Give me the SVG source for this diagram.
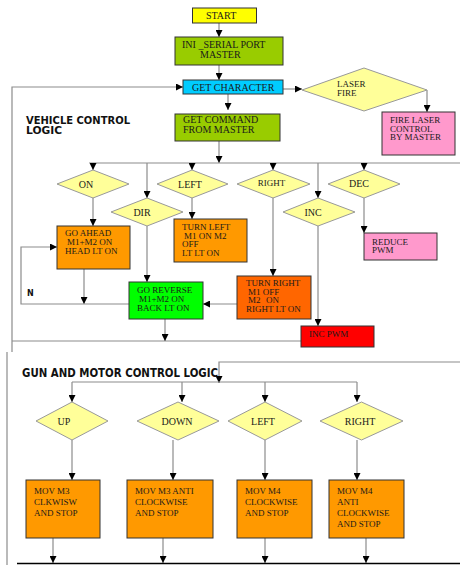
<svg xmlns="http://www.w3.org/2000/svg" width="460" height="565" viewBox="0 0 460 565">
<style>
.bx{stroke:#333;stroke-width:1}
.dm{fill:#ffff99;stroke:#999;stroke-width:1}
.t{font-family:"Liberation Serif","Times New Roman",serif;font-size:9px;fill:#1a1a1a}
.t10{font-family:"Liberation Serif","Times New Roman",serif;font-size:10px;fill:#1a1a1a}
.h{font-family:"DejaVu Sans",Verdana,sans-serif;font-weight:bold;fill:#111}
.c{fill:none;stroke:#8c8c8c;stroke-width:1.2}
.ca{fill:none;stroke:#8c8c8c;stroke-width:1.2;marker-end:url(#ar)}
</style>
<defs>
<marker id="ar" viewBox="0 0 8 8" refX="8" refY="4" markerWidth="7" markerHeight="7" markerUnits="userSpaceOnUse" orient="auto">
<path d="M0,0 L8,4 L0,8 z" fill="#000"/>
</marker>
</defs>
<rect width="460" height="565" fill="#fff"/>

<g id="connectors">
<path class="ca" d="M219,23 V37"/>
<path class="ca" d="M219,65 V80"/>
<path class="ca" d="M228,94 V110"/>
<path class="ca" d="M283,89 H302"/>
<path class="ca" d="M427,90 V112"/>
<path class="ca" d="M12,352 V87 H183"/>
<path class="c" d="M12,341 H301"/>
<path class="ca" d="M219,141 V163"/>
<path class="c" d="M89,163 H460"/>
<path class="ca" d="M93,163 V170"/>
<path class="ca" d="M147,163 V198"/>
<path class="ca" d="M192,163 V170"/>
<path class="ca" d="M273,163 V170"/>
<path class="ca" d="M318,163 V198"/>
<path class="ca" d="M364,163 V170"/>
<path class="ca" d="M93,197 V226"/>
<path class="ca" d="M147,226 V282"/>
<path class="ca" d="M192,197 V219"/>
<path class="ca" d="M273,197 V276"/>
<path class="ca" d="M318,226 V326"/>
<path class="ca" d="M364,197 V233"/>
<path class="ca" d="M84,269 V304"/>
<path class="ca" d="M129,304 H21 V247 H57"/>
<path class="ca" d="M237,304 H203"/>
<path class="ca" d="M165,319 V341"/>
<path class="c" d="M7,352 V565"/>
<path class="ca" d="M460,362 H219 V383"/>
<path class="c" d="M72,382 H357"/>
<path class="ca" d="M72,382 V402"/>
<path class="ca" d="M182,382 V402"/>
<path class="ca" d="M265,382 V402"/>
<path class="ca" d="M357,382 V402"/>
<path class="ca" d="M72,440 V480"/>
<path class="ca" d="M173,440 V480"/>
<path class="ca" d="M265,440 V480"/>
<path class="ca" d="M357,440 V480"/>
<path class="ca" d="M53,538 V563"/>
<path class="ca" d="M163,538 V563"/>
<path class="ca" d="M265,538 V563"/>
<path class="ca" d="M366,538 V563"/>
<path d="M17,563.5 H460" stroke="#000" stroke-width="1.5" fill="none"/>
</g>

<text class="h" x="26" y="123.5" font-size="10" textLength="104" lengthAdjust="spacingAndGlyphs">VEHICLE CONTROL</text>
<text class="h" x="26" y="133.5" font-size="10" textLength="36" lengthAdjust="spacingAndGlyphs">LOGIC</text>
<text class="h" x="27" y="296" font-size="8">N</text>
<text class="h" x="22" y="377" font-size="12.5" textLength="196" lengthAdjust="spacingAndGlyphs">GUN AND MOTOR CONTROL LOGIC</text>

<g id="start"><rect class="bx" x="192.5" y="8" width="64" height="15" fill="#ffff00"/><text class="t10" x="206" y="19">START</text></g>
<g id="ini"><rect class="bx" x="175" y="37" width="108" height="28" fill="#99cc00"/><text class="t10" x="182" y="48">INI _SERIAL PORT</text><text class="t10" x="200" y="57.5">MASTER</text></g>
<g id="getchar"><rect class="bx" x="183" y="80" width="100" height="14" fill="#00ccff"/><text class="t10" x="192" y="91">GET CHARACTER</text></g>
<g id="laser"><polygon class="dm" points="364,68 427,90 364,111 302,90"/><text class="t" x="337" y="87">LASER</text><text class="t" x="337" y="96">FIRE</text></g>
<g id="firelaser"><rect class="bx" x="382" y="112" width="73" height="43" fill="#ff99cc"/><text class="t" x="390" y="123">FIRE LASER</text><text class="t" x="390" y="131.5">CONTROL</text><text class="t" x="390" y="140">BY MASTER</text></g>
<g id="getcmd"><rect class="bx" x="175" y="114" width="105" height="27" fill="#99cc00"/><text class="t10" x="183" y="123">GET COMMAND</text><text class="t10" x="183" y="132.5">FROM MASTER</text></g>

<g id="on"><polygon class="dm" points="93,170 129,184 93,198 57,184"/><text class="t10" x="86" y="187.5" text-anchor="middle">ON</text></g>
<g id="dir"><polygon class="dm" points="147,198 183,212 147,226 111,212"/><text class="t10" x="142" y="215.5" text-anchor="middle">DIR</text></g>
<g id="left"><polygon class="dm" points="192,170 228,184 192,198 157,184"/><text class="t10" x="190" y="187.5" text-anchor="middle">LEFT</text></g>
<g id="right"><polygon class="dm" points="273,170 310,184 273,198 237,184"/><text class="t" x="271.5" y="185.5" text-anchor="middle" font-size="8">RIGHT</text></g>
<g id="inc"><polygon class="dm" points="318,198 355,212 318,226 283,212"/><text class="t10" x="313" y="215.5" text-anchor="middle">INC</text></g>
<g id="dec"><polygon class="dm" points="364,170 400,184 364,198 328,184"/><text class="t10" x="359" y="186.5" text-anchor="middle">DEC</text></g>

<g id="goahead"><rect class="bx" x="57" y="226" width="73" height="43" fill="#ff9900"/><text class="t" x="65" y="236">GO AHEAD</text><text class="t" x="67" y="245">M1+M2 ON</text><text class="t" x="65" y="253.5">HEAD LT ON</text></g>
<g id="turnleft"><rect class="bx" x="174" y="219" width="73" height="43" fill="#ff9900"/><text class="t" x="182" y="230">TURN LEFT</text><text class="t" x="184" y="238.5">M1 ON M2</text><text class="t" x="182" y="247">OFF</text><text class="t" x="182" y="256">LT LT ON</text></g>
<g id="reduce"><rect class="bx" x="364" y="233" width="73" height="27" fill="#ff99cc"/><text class="t" x="372" y="244.5">REDUCE</text><text class="t" x="372" y="253">PWM</text></g>
<g id="turnright"><rect class="bx" x="237" y="276" width="74" height="43" fill="#ff6600"/><text class="t" x="246" y="285.5">TURN RIGHT</text><text class="t" x="248" y="294.5">M1 OFF</text><text class="t" x="248" y="303">M2</text><text class="t" x="266" y="303">ON</text><text class="t" x="246" y="312">RIGHT LT ON</text></g>
<g id="goreverse"><rect class="bx" x="129" y="282" width="74" height="37" fill="#00ff00"/><text class="t" x="137" y="293">GO REVERSE</text><text class="t" x="139" y="302">M1+M2 ON</text><text class="t" x="137" y="310.5">BACK LT ON</text></g>
<g id="incpwm"><rect class="bx" x="301" y="326" width="73" height="21" fill="#ff0000"/><text class="t" x="309" y="337">INC PWM</text></g>

<g id="up"><polygon class="dm" points="72,402 108,421 72,440 36,421"/><text class="t10" x="64" y="424.5" text-anchor="middle">UP</text></g>
<g id="down"><polygon class="dm" points="178,402 219,421 178,440 137,421"/><text class="t10" x="177" y="424.5" text-anchor="middle">DOWN</text></g>
<g id="left2"><polygon class="dm" points="265,402 302,421 265,440 228,421"/><text class="t10" x="263" y="424.5" text-anchor="middle">LEFT</text></g>
<g id="right2"><polygon class="dm" points="361.5,402 403,421 361.5,440 320,421"/><text class="t10" x="360" y="424.5" text-anchor="middle">RIGHT</text></g>

<g id="m3cw"><rect class="bx" x="26" y="480" width="74" height="58" fill="#ff9900"/><text class="t" x="34" y="494">MOV M3</text><text class="t" x="34" y="505">CLKWISW</text><text class="t" x="34" y="516">AND STOP</text></g>
<g id="m3acw"><rect class="bx" x="127" y="480" width="86" height="58" fill="#ff9900"/><text class="t" x="135" y="494">MOV M3 ANTI</text><text class="t" x="135" y="505">CLOCKWISE</text><text class="t" x="135" y="516">AND STOP</text></g>
<g id="m4cw"><rect class="bx" x="237" y="480" width="75" height="58" fill="#ff9900"/><text class="t" x="245" y="494">MOV M4</text><text class="t" x="245" y="505">CLOCKWISE</text><text class="t" x="245" y="516">AND STOP</text></g>
<g id="m4acw"><rect class="bx" x="329" y="480" width="75" height="58" fill="#ff9900"/><text class="t" x="337" y="494">MOV M4</text><text class="t" x="337" y="505">ANTI</text><text class="t" x="337" y="516">CLOCKWISE</text><text class="t" x="337" y="527">AND STOP</text></g>
</svg>
